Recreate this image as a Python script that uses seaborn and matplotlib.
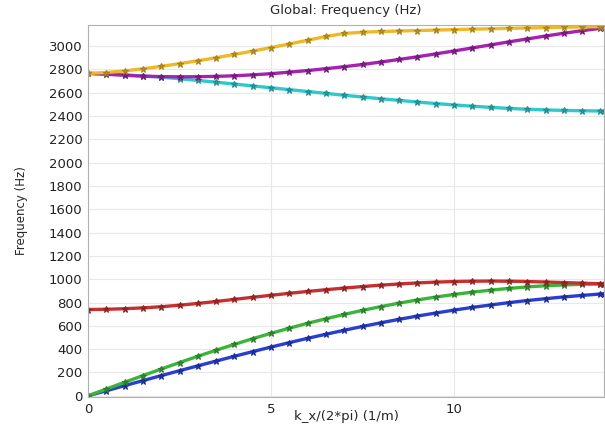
import numpy as np
import pandas as pd
import matplotlib
matplotlib.use("Agg")
import matplotlib.pyplot as plt
import seaborn as sns

# wave number k_x/(2*pi) sampled along the sweep
k = [0, 0.5, 1, 1.5, 2, 2.5, 3, 3.5, 4, 4.5, 5, 5.5, 6, 6.5, 7, 7.5,
     8, 8.5, 9, 9.5, 10, 10.5, 11, 11.5, 12, 12.5, 13, 13.5, 14, 14.1]

# eigenfrequencies (Hz) per branch
blue = [0, 43, 87, 130, 173, 215, 257, 298, 339, 379, 418, 456, 493, 528, 562, 595,
        626, 656, 684, 710, 735, 758, 779, 799, 817, 833, 848, 861, 873, 875]
green = [0, 58, 116, 173, 230, 285, 339, 391, 441, 490, 536, 580, 622, 661, 698, 733,
         765, 795, 822, 847, 869, 889, 906, 921, 934, 944, 951, 956, 960, 960]
red = [740, 742, 747, 754, 764, 777, 792, 809, 827, 845, 862, 879, 895, 910, 924, 937,
       949, 959, 968, 975, 980, 983, 984, 983, 980, 976, 971, 966, 961, 960]
cyan = [2766, 2760, 2752, 2743, 2733, 2720, 2705, 2690, 2674, 2658, 2642, 2626, 2610, 2594, 2578, 2563,
        2548, 2534, 2520, 2507, 2495, 2484, 2474, 2465, 2458, 2452, 2448, 2445, 2443, 2443]
magenta = [2766, 2758, 2750, 2742, 2738, 2736, 2737, 2740, 2745, 2753, 2763, 2776, 2790, 2806, 2823, 2842,
           2863, 2885, 2908, 2933, 2958, 2984, 3010, 3036, 3061, 3086, 3110, 3132, 3152, 3155]
yellow = [2766, 2773, 2787, 2805, 2826, 2849, 2874, 2900, 2928, 2957, 2987, 3018, 3050, 3082, 3108, 3119,
          3125, 3129, 3133, 3137, 3141, 3145, 3148, 3152, 3155, 3158, 3161, 3164, 3167, 3167]

branches = {"blue": blue, "green": green, "red": red,
            "cyan": cyan, "magenta": magenta, "yellow": yellow}
colors = {"blue": "#2a3fd0", "green": "#3cb43c", "red": "#c83030",
          "cyan": "#30c8cc", "magenta": "#a424b0", "yellow": "#eeb928"}

rows = []
for name, vals in branches.items():
    for x, f in zip(k, vals):
        rows.append((name, x, f))
df = pd.DataFrame(rows, columns=["branch", "k", "freq"])

sns.set_style("whitegrid", {"grid.color": "#e8e8e8", "axes.edgecolor": "#b0b0b0"})
plt.rcParams['font.family'] = ['DejaVu Sans']

fig = plt.figure(figsize=(6.05, 4.25), dpi=100)
ax = fig.add_axes([0.1455, 0.066, 0.853, 0.875])

sns.lineplot(data=df, x="k", y="freq", hue="branch", palette=colors,
             marker="*", markersize=5, linewidth=2.4,
             legend=False, ax=ax, sort=False)

# darker star edges like the reference's dense markers
for ln in ax.lines:
    c = np.array(matplotlib.colors.to_rgb(ln.get_color()))
    ln.set_markeredgecolor(c * 0.7)
    ln.set_markerfacecolor(c * 0.8)
    ln.set_markeredgewidth(0.8)

ax.set_xlim(0, 14.1)
ax.set_ylim(-10, 3180)
ax.set_xticks([0, 5, 10])
ax.set_yticks(np.arange(0, 3001, 200))
ax.tick_params(axis="both", labelsize=9.5, length=2.5, width=0.8, color="#999999",
               colors="#222222", pad=1.5, direction="out")
ax.set_title("Global: Frequency (Hz)", fontsize=9.5, pad=8)
ax.set_xlabel("k_x/(2*pi) (1/m)", fontsize=9.5, labelpad=-4)
ax.set_ylabel("Frequency (Hz)", fontsize=8.5, labelpad=15)
for s in ax.spines.values():
    s.set_linewidth(0.8)

fig.savefig("out.png", dpi=100)
